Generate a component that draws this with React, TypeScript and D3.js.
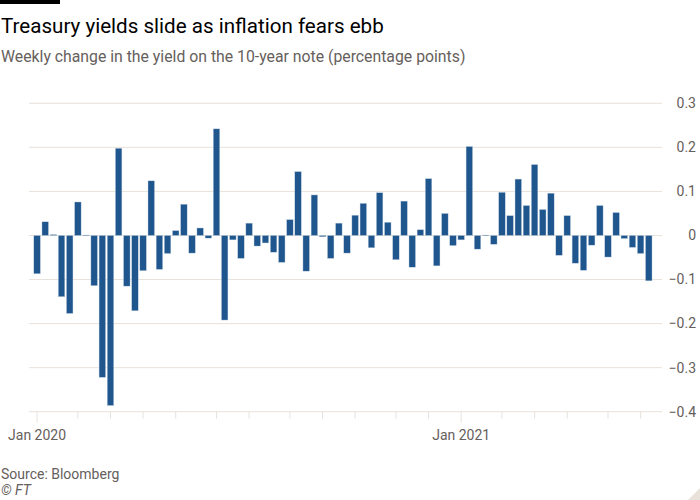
import React from "react";
import * as d3 from "d3";

const title = "Treasury yields slide as inflation fears ebb";
const subtitle = "Weekly change in the yield on the 10-year note (percentage points)";
const source = "Source: Bloomberg";
const credit = "© FT";

// Weekly dates (Fridays) from 3 Jan 2020 to 18 Jun 2021
const dates: Date[] = d3.timeFriday.range(new Date(2020, 0, 3), new Date(2021, 5, 19));

const changes: number[] = [
  -0.087, 0.031, 0.002, -0.139, -0.177, 0.076, 0.001, -0.114, -0.322, -0.386,
  0.198, -0.115, -0.171, -0.080, 0.124, -0.077, -0.041, 0.011, 0.071, -0.040,
  0.017, -0.006, 0.242, -0.192, -0.010, -0.052, 0.028, -0.024, -0.017, -0.038,
  -0.061, 0.036, 0.145, -0.081, 0.092, -0.003, -0.052, 0.028, -0.040, 0.046,
  0.073, -0.028, 0.097, 0.030, -0.055, 0.078, -0.072, 0.013, 0.129, -0.069,
  0.050, -0.023, -0.010, 0.202, -0.031, 0.001, -0.020, 0.098, 0.045, 0.128,
  0.068, 0.161, 0.059, 0.096, -0.045, 0.045, -0.063, -0.079, -0.022, 0.068,
  -0.049, 0.052, -0.007, -0.027, -0.041, -0.103,
];

const yTicks: number[] = [0.3, 0.2, 0.1, 0, -0.1, -0.2, -0.3, -0.4];
const yearLabels: string[] = ["Jan 2020", "Jan 2021"];

const W = 700;
const H = 500;
const FONT = "Roboto, 'Noto Sans', sans-serif";

export default function App() {
  const keys = dates.map((d) => +d);
  const x = d3
    .scaleBand<number>()
    .domain(keys)
    .range([33, 661])
    .paddingInner(0.2)
    .paddingOuter(0.1);
  const y = d3.scaleLinear().domain([-0.4, 0.3]).range([411.7, 103.3]);

  // first bar of each month
  const monthTicks = dates.filter(
    (d, i) => i === 0 || d.getMonth() !== dates[i - 1].getMonth()
  );
  const fmtLabel = d3.timeFormat("%b %Y");

  const gridColor = "#e9e2da";
  const textColor = "#66605c";

  return (
    <svg
      width={W}
      height={H}
      style={{ position: "absolute", left: 0, top: 0, background: "#fff" }}
    >
      <rect x={0} y={0} width={60} height={4} fill="#000" />
      <text x={1} y={33} fontFamily={FONT} fontSize={20.6} fill="#000">
        {title}
      </text>
      <text x={1} y={62} fontFamily={FONT} fontSize={15.8} fill={textColor}>
        {subtitle}
      </text>

      {yTicks.map((t) => (
        <g key={t}>
          <line
            x1={29}
            x2={662}
            y1={y(t)}
            y2={y(t)}
            stroke={gridColor}
            strokeWidth={1}
          />
          <text
            x={696}
            y={y(t)}
            dy="0.35em"
            textAnchor="end"
            fontFamily={FONT}
            fontSize={14}
            fill={textColor}
          >
            {t === 0 ? "0" : d3.format(".1f")(t)}
          </text>
        </g>
      ))}

      {monthTicks.map((d) => {
        const cx = (x(+d) as number) + x.bandwidth() / 2;
        const isJan = d.getMonth() === 0;
        return (
          <g key={+d}>
            <line
              x1={cx}
              x2={cx}
              y1={y(-0.4)}
              y2={y(-0.4) + (isJan ? 11 : 7)}
              stroke={gridColor}
              strokeWidth={1}
            />
            {isJan && yearLabels.includes(fmtLabel(d)) && (
              <text
                x={cx}
                y={440}
                textAnchor="middle"
                fontFamily={FONT}
                fontSize={14}
                fill={textColor}
              >
                {fmtLabel(d)}
              </text>
            )}
          </g>
        );
      })}

      {changes.map((v, i) => {
        const bx = x(keys[i]) as number;
        const y0 = y(0);
        const y1 = y(v);
        return (
          <rect
            key={i}
            x={bx}
            y={Math.min(y0, y1)}
            width={x.bandwidth()}
            height={Math.max(0.8, Math.abs(y1 - y0))}
            fill="#1f568e"
            stroke="#c9d6e4"
            strokeWidth={0.4}
          />
        );
      })}

      <text x={1} y={479} fontFamily={FONT} fontSize={14} fill={textColor}>
        {source}
      </text>
      <text
        x={1}
        y={495}
        fontFamily={FONT}
        fontSize={14}
        fontStyle="italic"
        fill={textColor}
      >
        {credit}
      </text>
      <path d="M700,488 L700,500 L688,500 Z" fill="#e9e2da" />
    </svg>
  );
}
